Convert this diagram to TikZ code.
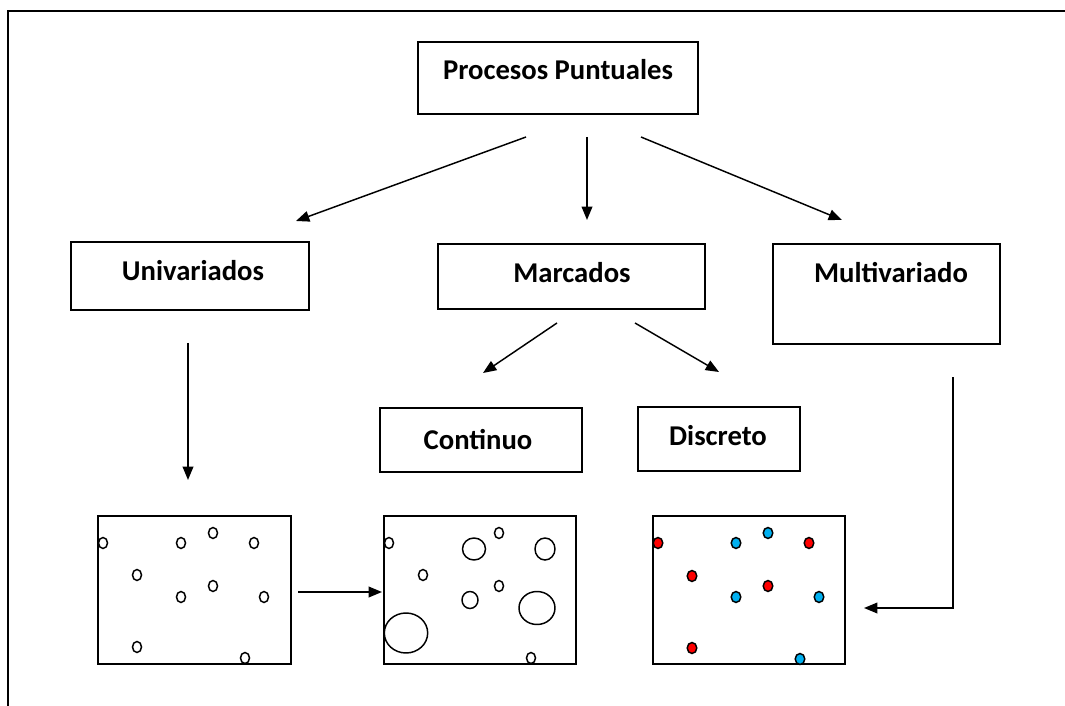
\documentclass[tikz,border=0pt]{standalone}
\usepackage{fontspec}
\setmainfont{Carlito}
\usetikzlibrary{arrows.meta}
\definecolor{mred}{HTML}{FF0000}
\definecolor{mblue}{HTML}{00B0F0}
\tikzset{
  box/.style 2 args={draw, line width=1.5pt, inner sep=0pt, minimum width=#1*0.75pt, minimum height=#2*0.75pt},
  lbl/.style={anchor=base, inner sep=0pt, font=\fontsize{21.5}{25}\selectfont\bfseries},
  conn/.style={line width=1.1pt, -{Triangle[length=10pt,width=8pt]}},
  pt/.style={line width=1.1pt, draw=black, fill=white},
  rdot/.style={line width=1.1pt, draw=black, fill=mred},
  bdot/.style={line width=1.1pt, draw=black, fill=mblue}
}
\begin{document}
\begin{tikzpicture}[x=0.75pt,y=-0.75pt]
\useasboundingbox (0,0) rectangle (1065,706);
% outer frame
\draw[line width=1.5pt] (8,706) -- (8,11) -- (1065,11);
% boxes
\node[box={280}{72}] (top) at (558,78) {};
\node[lbl] (ttop) at (558,80) {Procesos Puntuales};
\node[box={238}{68}] (uni) at (190,276) {};
\node[lbl] (tuni) at (193,281) {Univariados};
\node[box={267}{65}] (mar) at (571.5,276.5) {};
\node[lbl] (tmar) at (572,283) {Marcados};
\node[box={227}{100}] (mul) at (886.5,294) {};
\node[lbl] (tmul) at (891,283) {Multivariado};
\node[box={202}{64}] (con) at (481,440) {};
\node[lbl] (tcon) at (478,449) {Continuo};
\node[box={162}{64}] (dis) at (719,439) {};
\node[lbl] (tdis) at (718,445) {Discreto};
\node[box={193}{148}] (b1) at (194.5,590) {};
\node[box={192}{148}] (b2) at (480,590) {};
\node[box={192}{148}] (b3) at (749,590) {};
% connector end points
\coordinate (s1) at (526,137); \coordinate (e1) at (296,221);
\coordinate (s2) at (587,137); \coordinate (e2) at (587,220);
\coordinate (s3) at (641,137); \coordinate (e3) at (842,220);
\coordinate (s4) at (557,323); \coordinate (e4) at (483,373);
\coordinate (s5) at (635,323); \coordinate (e5) at (719,372);
\coordinate (s6) at (188,343); \coordinate (e6) at (188,480);
\coordinate (s7) at (298,592); \coordinate (e7) at (382,592);
\coordinate (s8) at (953,377); \coordinate (k8) at (953,608); \coordinate (e8) at (864,608);
\draw[conn] (s1) -- (e1);
\draw[conn] (s2) -- (e2);
\draw[conn] (s3) -- (e3);
\draw[conn] (s4) -- (e4);
\draw[conn] (s5) -- (e5);
\draw[conn] (s6) -- (e6);
\draw[conn] (s7) -- (e7);
\draw[conn] (s8) -- (k8) -- (e8);
% univariate points
\foreach \x/\y in {103/543,181/543,213/533,254/543,137/575,213/586,181/597,264/597,137/647,245/658}
  \draw[pt] (\x,\y) ellipse [x radius=4.5, y radius=5.5];
% marked continuous points
\foreach \x/\y/\a/\b in {389/543/4.5/5.5, 474/549/11.5/11, 499/533/4.5/5.5, 545/549/10/11, 423/575/4.5/5.5, 499/586/4.5/5.5, 470/600/8/8.5, 537/608/18/16.5, 406/633/21.7/20, 531/658/4.5/5.5}
  \draw[pt] (\x,\y) ellipse [x radius=\a, y radius=\b];
% marked discrete points
\foreach \x/\y in {658/543,809/543,692/576,768/586,692/648}
  \draw[rdot] (\x,\y) ellipse [x radius=4.8, y radius=5.5];
\foreach \x/\y in {736/543,768/533,736/597,819/597,800/659}
  \draw[bdot] (\x,\y) ellipse [x radius=4.8, y radius=5.5];
\end{tikzpicture}
\end{document}
